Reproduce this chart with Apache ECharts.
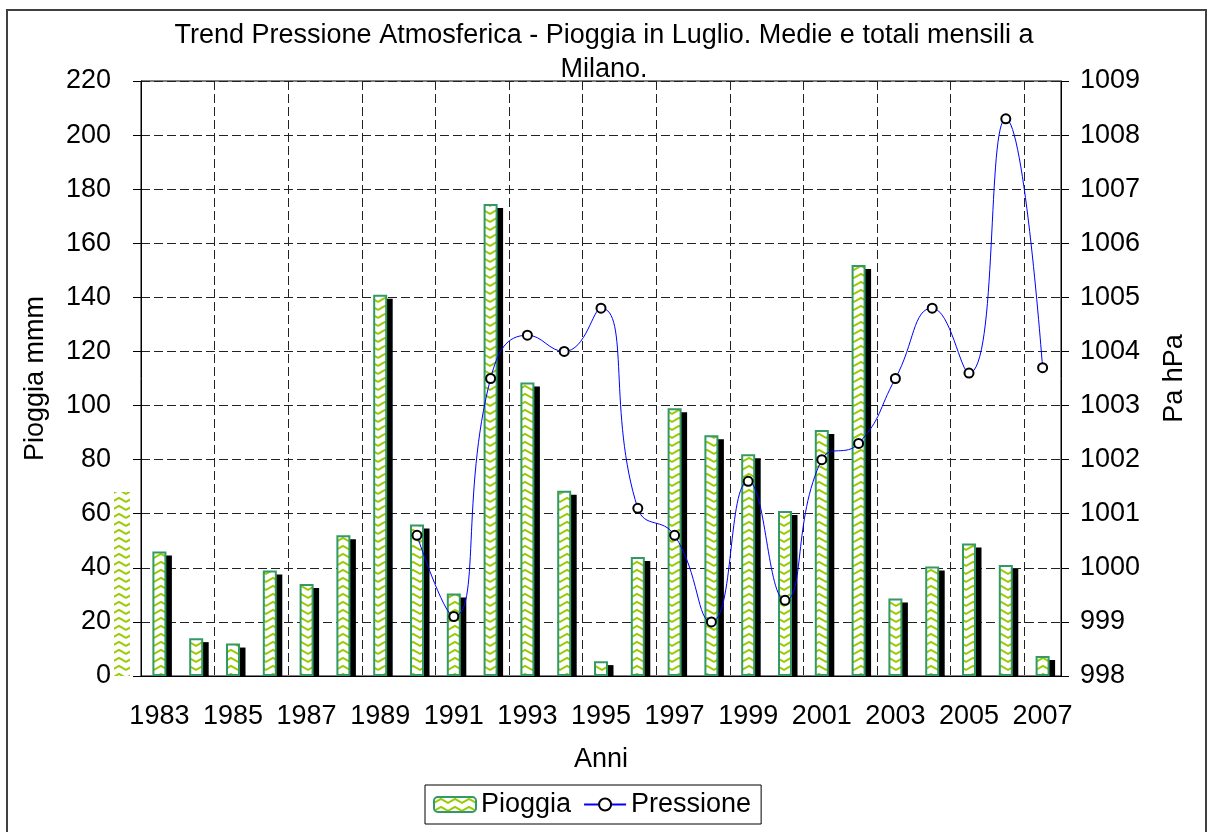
<!DOCTYPE html>
<html>
<head>
<meta charset="utf-8">
<title>Trend Pressione Atmosferica - Pioggia in Luglio</title>
<script src="https://cdn.jsdelivr.net/npm/echarts@6/dist/echarts.min.js"></script>
<style>
  html, body { margin: 0; padding: 0; background: #fff; }
  #chart { width: 1208px; height: 832px; }
</style>
</head>
<body>
<div id="chart"></div>
<script>
// dati (luglio, Milano)
const anni = ['1983', '1984', '1985', '1986', '1987', '1988', '1989', '1990', '1991', '1992',
  '1993', '1994', '1995', '1996', '1997', '1998', '1999', '2000', '2001', '2002',
  '2003', '2004', '2005', '2006', '2007']
const pioggia = [46, 14, 12, 39, 34, 52, 141, 56, 30.5, 174.5,
  108.5, 68.5, 5.5, 44, 99, 89, 82, 61, 91, 152,
  28.7, 40.5, 49, 41, 7.4]
const pressione = [null, null, null, null, null, null, null, 1000.6, 999.1, 1003.5,
  1004.3, 1004.0, 1004.8, 1001.1, 1000.6, 999.0, 1001.6, 999.4, 1002.0, 1002.3,
  1003.5, 1004.8, 1003.6, 1008.3, 1003.7]
const assePioggia = { min: 0, max: 220, interval: 20 }
const assePressione = { min: 998, max: 1009, interval: 1 }
const chiaveSpaiata = 68 // riquadro di legenda rimasto a sinistra dell'asse

const FONT = '"Liberation Sans", Arial, sans-serif'

// motivo a zig-zag verde dei bar di Excel
const makeZigzag = () => {
  const c = document.createElement('canvas')
  c.width = 14
  c.height = 8
  const ctx = c.getContext('2d')
  ctx.fillStyle = '#fff'
  ctx.fillRect(0, 0, 14, 8)
  ctx.strokeStyle = '#99cc00'
  ctx.lineWidth = 2
  ctx.beginPath()
  ctx.moveTo(-1, 6.5)
  ctx.lineTo(7, 2)
  ctx.lineTo(15, 6.5)
  ctx.stroke()
  return c
}
const zigzag = makeZigzag()

const myChart = echarts.init(document.getElementById('chart'), null, { renderer: 'canvas' })

const labelStyle = { fontSize: 27, color: '#000', fontFamily: FONT }
const dash = { color: '#222', width: 1, type: [9, 4] }

const option = {
  animation: false,
  backgroundColor: '#fff',
  textStyle: { fontFamily: FONT },
  title: {
    text: 'Trend Pressione Atmosferica - Pioggia in Luglio. Medie e totali mensili a\nMilano.',
    left: 'center',
    top: 19,
    padding: 0,
    textStyle: { fontSize: 27, fontWeight: 'normal', color: '#000', lineHeight: 34, fontFamily: FONT }
  },
  legend: {
    data: ['Pioggia', 'Pressione'],
    left: 425,
    top: 785,
    itemWidth: 42,
    itemHeight: 15,
    itemGap: 12,
    padding: [6, 10, 6, 8],
    borderColor: '#000',
    borderWidth: 1,
    textStyle: { fontSize: 27, color: '#000', lineHeight: 27, fontFamily: FONT }
  },
  grid: {
    left: 141,
    right: 147,
    top: 81,
    bottom: 156,
    show: true,
    borderColor: '#000',
    borderWidth: 1
  },
  xAxis: {
    type: 'category',
    data: anni,
    name: 'Anni',
    nameLocation: 'middle',
    nameGap: 70,
    nameTextStyle: { ...labelStyle, lineHeight: 27 },
    axisLine: { lineStyle: { color: '#000', width: 1 } },
    axisTick: { interval: 1, length: 8, lineStyle: { color: '#000' } },
    axisLabel: { ...labelStyle, interval: 1, margin: 27 },
    splitLine: { show: true, interval: 1, lineStyle: dash }
  },
  yAxis: [
    {
      type: 'value',
      ...assePioggia,
      name: 'Pioggia mmm',
      nameLocation: 'middle',
      nameGap: 92,
      nameTextStyle: { ...labelStyle, lineHeight: 27 },
      axisLine: { show: true, lineStyle: { color: '#000', width: 1 } },
      axisTick: { show: true, length: 8, lineStyle: { color: '#000' } },
      axisLabel: { ...labelStyle, margin: 30 },
      splitLine: { show: true, lineStyle: dash }
    },
    {
      type: 'value',
      ...assePressione,
      position: 'right',
      name: 'Pa hPa',
      nameLocation: 'middle',
      nameGap: 100,
      nameTextStyle: { ...labelStyle, lineHeight: 27 },
      axisLine: { show: true, lineStyle: { color: '#000', width: 1 } },
      axisTick: { show: true, length: 8, lineStyle: { color: '#000' } },
      axisLabel: { ...labelStyle, margin: 19, formatter: v => String(v) },
      splitLine: { show: false }
    }
  ],
  series: [
    {
      // ombra nera dei bar
      name: 'ombra',
      type: 'custom',
      z: 1,
      silent: true,
      encode: { x: 0, y: 1 },
      data: pioggia.map((v, i) => [i, v]),
      renderItem: (params, api) => {
        const top = api.coord([api.value(0), api.value(1)])
        const base = api.coord([api.value(0), 0])
        const y = top[1] + 4
        return {
          type: 'rect',
          shape: { x: top[0] - 2, y: y, width: 14.5, height: Math.max(0, base[1] - y) },
          style: { fill: '#000' }
        }
      }
    },
    {
      name: 'Pioggia',
      type: 'bar',
      z: 2,
      barWidth: 14,
      data: pioggia,
      itemStyle: {
        color: { image: zigzag, repeat: 'repeat' },
        borderColor: '#339966',
        borderWidth: 2
      }
    },
    {
      name: 'Pressione',
      type: 'line',
      z: 4,
      yAxisIndex: 1,
      data: pressione,
      smooth: true,
      symbol: 'circle',
      symbolSize: 9,
      lineStyle: { color: '#0000ff', width: 1 },
      itemStyle: { color: '#fff', borderColor: '#000', borderWidth: 2 }
    }
  ]
}
myChart.setOption(option)

// cornice del grafico e riquadro spaiato a sinistra
const yTop = myChart.convertToPixel({ yAxisIndex: 0 }, chiaveSpaiata)
const yBase = myChart.convertToPixel({ yAxisIndex: 0 }, 0)
myChart.setOption({
  graphic: [
    {
      type: 'rect',
      z: 100,
      silent: true,
      shape: { x: 7, y: 10, width: 1199, height: 840 },
      style: { fill: 'none', stroke: '#404040', lineWidth: 2 }
    },
    {
      type: 'rect',
      silent: true,
      shape: { x: 114, y: yTop, width: 16, height: yBase - yTop },
      style: { fill: { image: zigzag, repeat: 'repeat' } }
    }
  ]
})
</script>
</body>
</html>
